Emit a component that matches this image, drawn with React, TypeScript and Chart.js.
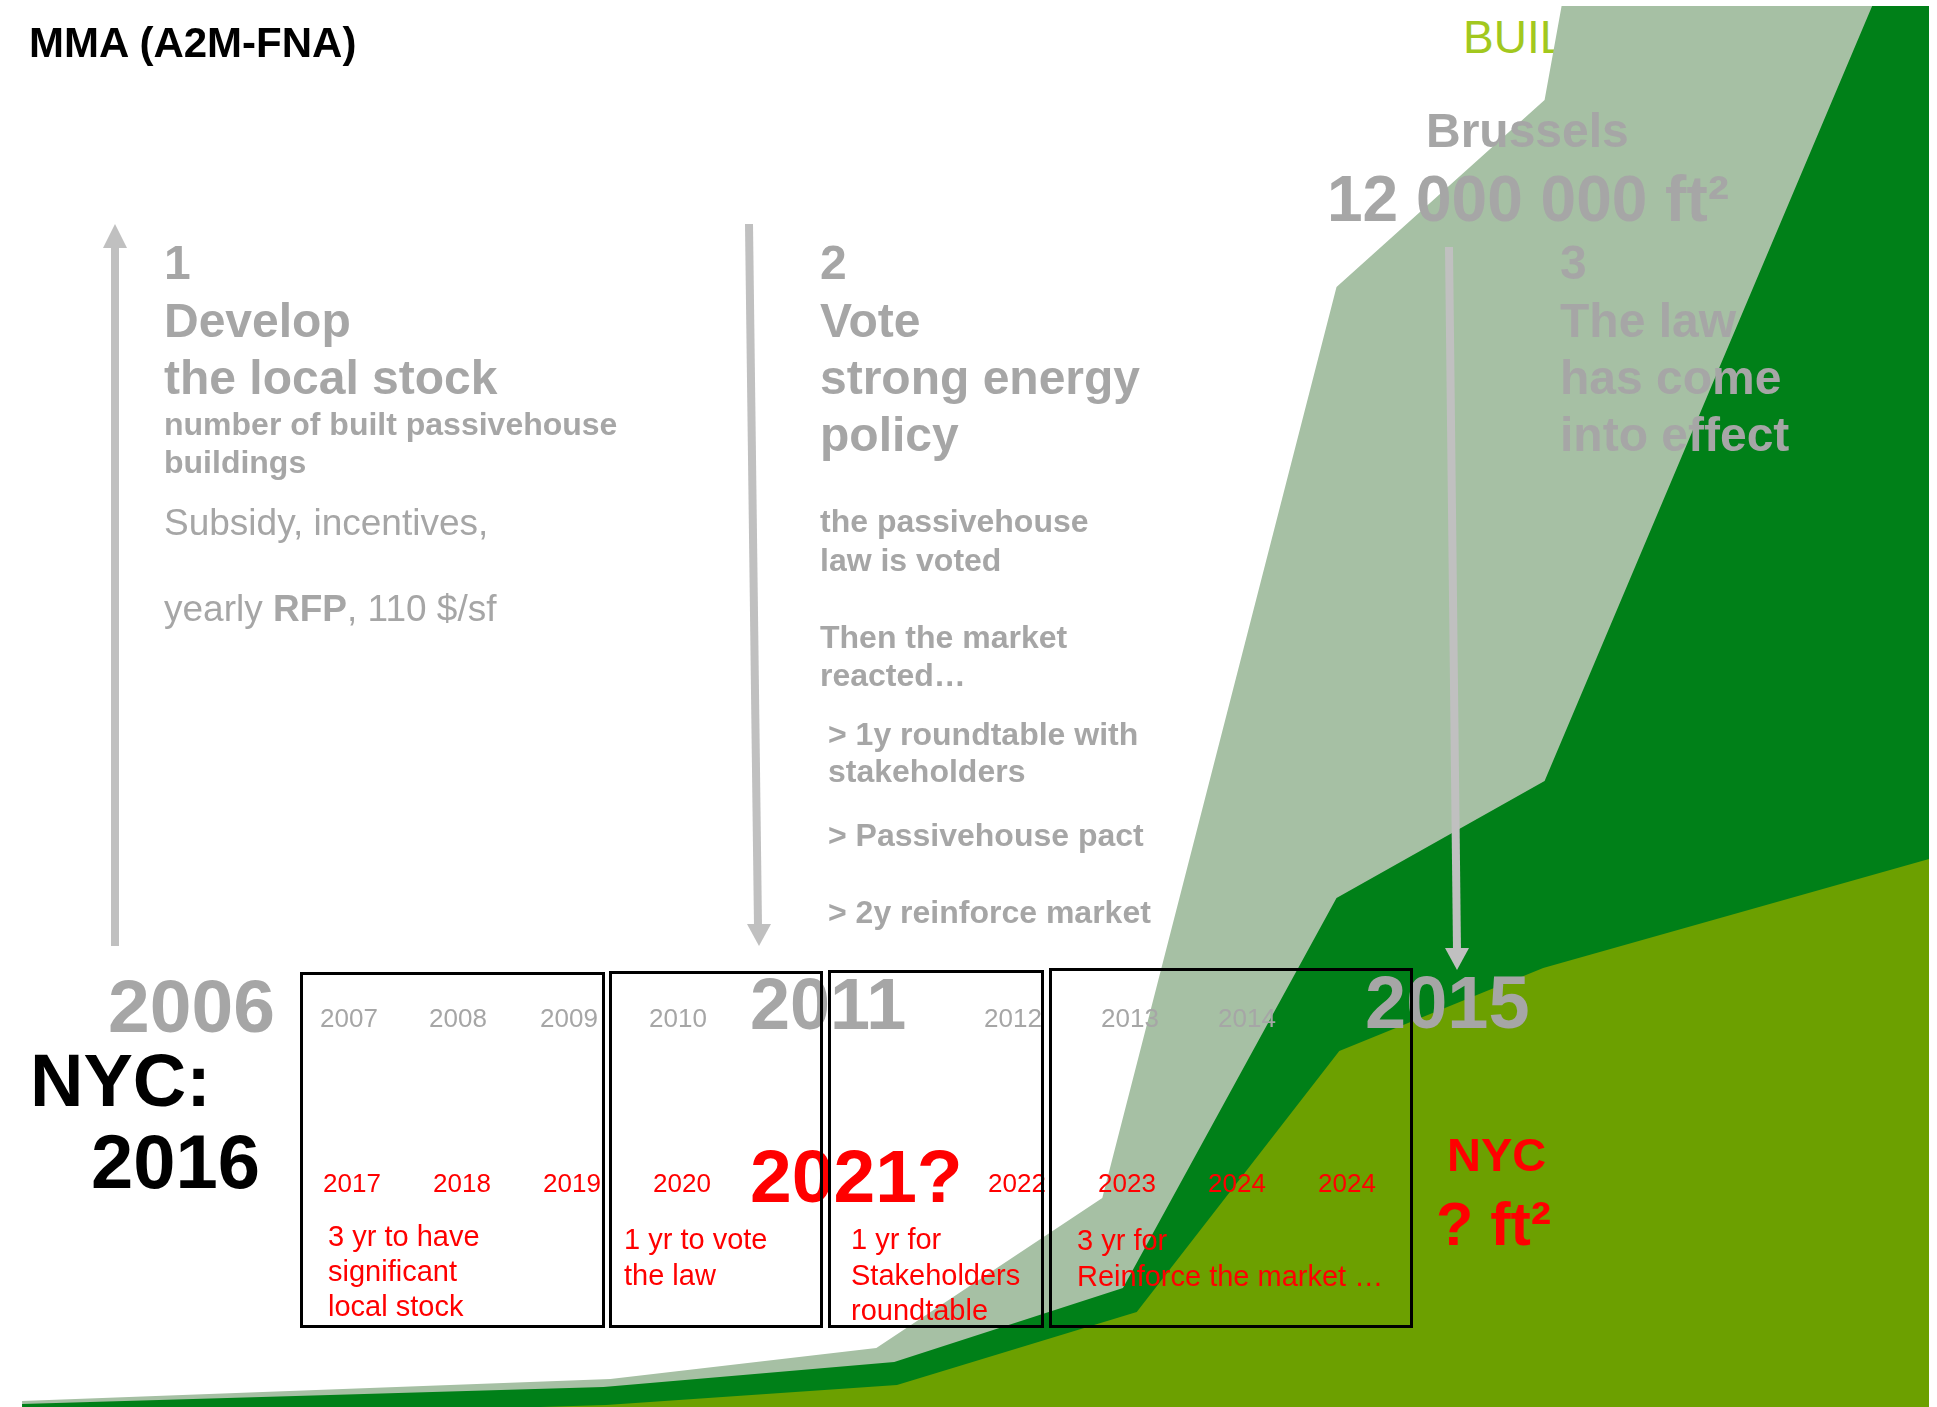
import React, { useEffect, useRef } from "react";
import { Chart, registerables } from "chart.js";

Chart.register(...registerables);

// ---- Area series (cumulative totals, x in years) ----
const LIME_YEARS = [2008.42, 2008.9, 2011.01, 2012.75, 2014.22, 2015.7, 2018.5];
const LIME_TOTAL = [0, 0.14, 1.57, 6.78, 25.41, 31.33, 39.11];
const DARK_YEARS = [2004.66, 2008.88, 2010.99, 2012.65, 2014.2, 2015.71, 2018.5];
const DARK_TOTAL = [0.21, 1.43, 3.21, 8.49, 36.33, 44.68, 109.6];
const LIGHT_YEARS = [2004.66, 2008.93, 2010.86, 2012.5, 2014.2, 2015.71, 2018.5];
const LIGHT_TOTAL = [0.43, 2.0, 4.21, 14.92, 79.94, 93.29, 244.9];

// ---- Tick-like labels ----
const BRUSSELS_YEARS = ["2007", "2008", "2009", "2010", "2012", "2013", "2014"];
const BRUSSELS_YEAR_X = [349, 458, 569, 678, 1013, 1130, 1247];
const NYC_YEARS = ["2017", "2018", "2019", "2020", "2022", "2023", "2024", "2024"];
const NYC_YEAR_X = [352, 462, 572, 682, 1017, 1127, 1237, 1347];

const LIME = "rgb(108,160,0)";
const DARK = "rgb(0,128,24)";
const LIGHT = "rgb(166,192,164)";
const GREY = "#A6A6A6";
const RED = "#FF0000";
const FONT = "'Liberation Sans', Arial, Helvetica, sans-serif";

type TP = {
  x: number;
  y: number;
  size: number;
  bold?: boolean;
  color: string;
  center?: boolean;
  children: React.ReactNode;
};

function T({ x, y, size, bold, color, center, children }: TP) {
  return (
    <div
      style={{
        position: "absolute",
        left: x,
        top: y - 0.8465 * size,
        fontSize: size,
        lineHeight: size + "px",
        fontWeight: bold ? 700 : 400,
        color,
        whiteSpace: "nowrap",
        fontFamily: FONT,
        transform: center ? "translateX(-50%)" : undefined,
      }}
    >
      {children}
    </div>
  );
}

function Box({ l, t, r, b }: { l: number; t: number; r: number; b: number }) {
  return (
    <div
      style={{
        position: "absolute",
        left: l,
        top: t,
        width: r - l,
        height: b - t,
        border: "3px solid #000",
        boxSizing: "border-box",
      }}
    />
  );
}

export default function App() {
  const ref = useRef<HTMLCanvasElement | null>(null);

  useEffect(() => {
    if (!ref.current) return;
    const mk = (xs: number[], ys: number[]) => xs.map((x, i) => ({ x, y: ys[i] }));
    const ds = (label: string, xs: number[], ys: number[], color: string) => ({
      label,
      data: mk(xs, ys),
      backgroundColor: color,
      borderColor: "rgba(0,0,0,0)",
      borderWidth: 0,
      pointRadius: 0,
      tension: 0,
      fill: "origin",
    });
    const chart = new Chart(ref.current, {
      type: "line",
      data: {
        datasets: [
          ds("NYC-like stock", LIME_YEARS, LIME_TOTAL, LIME),
          ds("Brussels built", DARK_YEARS, DARK_TOTAL, DARK),
          ds("Brussels total", LIGHT_YEARS, LIGHT_TOTAL, LIGHT),
        ] as any,
      },
      options: {
        responsive: false,
        animation: false,
        layout: { padding: { top: 6, right: 8, left: 0, bottom: 0 } },
        scales: {
          x: { type: "linear", min: 2004.5, max: 2018.5, display: false },
          y: { min: 0, max: 100, display: false },
        },
        plugins: { legend: { display: false }, tooltip: { enabled: false } },
      },
    });
    return () => chart.destroy();
  }, []);

  return (
    <div
      style={{
        position: "fixed",
        left: 0,
        top: 0,
        width: 1937,
        height: 1407,
        overflow: "hidden",
        background: "#fff",
        fontFamily: FONT,
      }}
    >
      <div style={{ position: "absolute", left: 0, top: 0, zIndex: 0 }}>
        <T x={1463} y={53} size={46} color="#A2C81E">BUIL</T>
      </div>
      <canvas
        ref={ref}
        width={1937}
        height={1407}
        style={{ position: "absolute", left: 0, top: 0, zIndex: 1 }}
      />
      <div style={{ position: "absolute", left: 0, top: 0, width: 1937, height: 1407, zIndex: 2 }}>
        <T x={29} y={58} size={42} bold color="#000">MMA (A2M-FNA)</T>

        {/* column 1 */}
        <T x={164} y={280} size={48} bold color={GREY}>1</T>
        <T x={164} y={338} size={48} bold color={GREY}>Develop</T>
        <T x={164} y={395} size={48} bold color={GREY}>the local stock</T>
        <T x={164} y={435} size={32} bold color={GREY}>number of built passivehouse</T>
        <T x={164} y={473} size={32} bold color={GREY}>buildings</T>
        <T x={164} y={535} size={37} color={GREY}>Subsidy, incentives,</T>
        <T x={164} y={621} size={37} color={GREY}>
          yearly <b>RFP</b>, 110 $/sf
        </T>

        {/* column 2 */}
        <T x={820} y={280} size={48} bold color={GREY}>2</T>
        <T x={820} y={338} size={48} bold color={GREY}>Vote</T>
        <T x={820} y={395} size={48} bold color={GREY}>strong energy</T>
        <T x={820} y={452} size={48} bold color={GREY}>policy</T>
        <T x={820} y={532} size={32} bold color={GREY}>the passivehouse</T>
        <T x={820} y={571} size={32} bold color={GREY}>law is voted</T>
        <T x={820} y={648} size={32} bold color={GREY}>Then the market</T>
        <T x={820} y={686} size={32} bold color={GREY}>reacted…</T>
        <T x={828} y={745} size={32} bold color={GREY}>&gt; 1y roundtable with</T>
        <T x={828} y={782} size={32} bold color={GREY}>stakeholders</T>
        <T x={828} y={846} size={32} bold color={GREY}>&gt; Passivehouse pact</T>
        <T x={828} y={923} size={32} bold color={GREY}>&gt; 2y reinforce market</T>

        {/* Brussels + column 3 */}
        <T x={1426} y={148} size={48} bold color={GREY}>Brussels</T>
        <T x={1327} y={221} size={64} bold color={GREY}>12 000 000 ft²</T>
        <T x={1560} y={280} size={48} bold color={GREY}>3</T>
        <T x={1560} y={338} size={48} bold color={GREY}>The law</T>
        <T x={1560} y={395} size={48} bold color={GREY}>has come</T>
        <T x={1560} y={452} size={48} bold color={GREY}>into effect</T>

        {/* arrows */}
        <svg width={1937} height={1407} style={{ position: "absolute", left: 0, top: 0 }}>
          <line x1={115} y1={946} x2={115} y2={244} stroke="#C0C0C0" strokeWidth={8} />
          <polygon points="115,224 103,248 127,248" fill="#C0C0C0" />
          <line x1={749} y1={224} x2={758} y2={926} stroke="#C0C0C0" strokeWidth={8} />
          <polygon points="759,946 747,924 771,924" fill="#C0C0C0" />
          <line x1={1449} y1={247} x2={1457} y2={950} stroke="#C0C0C0" strokeWidth={8} />
          <polygon points="1457,970 1445,948 1469,948" fill="#C0C0C0" />
        </svg>

        {/* big years */}
        <T x={108} y={1032} size={75} bold color={GREY}>2006</T>
        <T x={30} y={1107} size={74} bold color="#000">NYC:</T>
        <T x={91} y={1188} size={76} bold color="#000">2016</T>
        <T x={750} y={1029} size={72} bold color={GREY}>2011</T>
        <T x={1365} y={1029} size={74} bold color={GREY}>2015</T>

        {BRUSSELS_YEARS.map((t, i) => (
          <T key={"b" + i} x={BRUSSELS_YEAR_X[i]} y={1027} size={26} color={GREY} center>
            {t}
          </T>
        ))}
        {NYC_YEARS.map((t, i) => (
          <T key={"n" + i} x={NYC_YEAR_X[i]} y={1192} size={26} color={RED} center>
            {t}
          </T>
        ))}

        <T x={750} y={1202} size={75} bold color={RED}>2021?</T>
        <T x={1447} y={1171} size={47} bold color={RED}>NYC</T>
        <T x={1436} y={1246} size={61} bold color={RED}>? ft²</T>

        <T x={328} y={1247} size={29} color={RED}>3 yr to have</T>
        <T x={328} y={1282} size={29} color={RED}>significant</T>
        <T x={328} y={1317} size={29} color={RED}>local stock</T>
        <T x={624} y={1250} size={29} color={RED}>1 yr to vote</T>
        <T x={624} y={1286} size={29} color={RED}>the law</T>
        <T x={851} y={1250} size={29} color={RED}>1 yr for</T>
        <T x={851} y={1286} size={29} color={RED}>Stakeholders</T>
        <T x={851} y={1321} size={29} color={RED}>roundtable</T>
        <T x={1077} y={1251} size={29} color={RED}>3 yr for</T>
        <T x={1077} y={1287} size={29} color={RED}>Reinforce the market …</T>

        <Box l={300} t={972} r={605} b={1328} />
        <Box l={609} t={971} r={823} b={1328} />
        <Box l={828} t={970} r={1044} b={1328} />
        <Box l={1049} t={968} r={1413} b={1328} />
      </div>
    </div>
  );
}
